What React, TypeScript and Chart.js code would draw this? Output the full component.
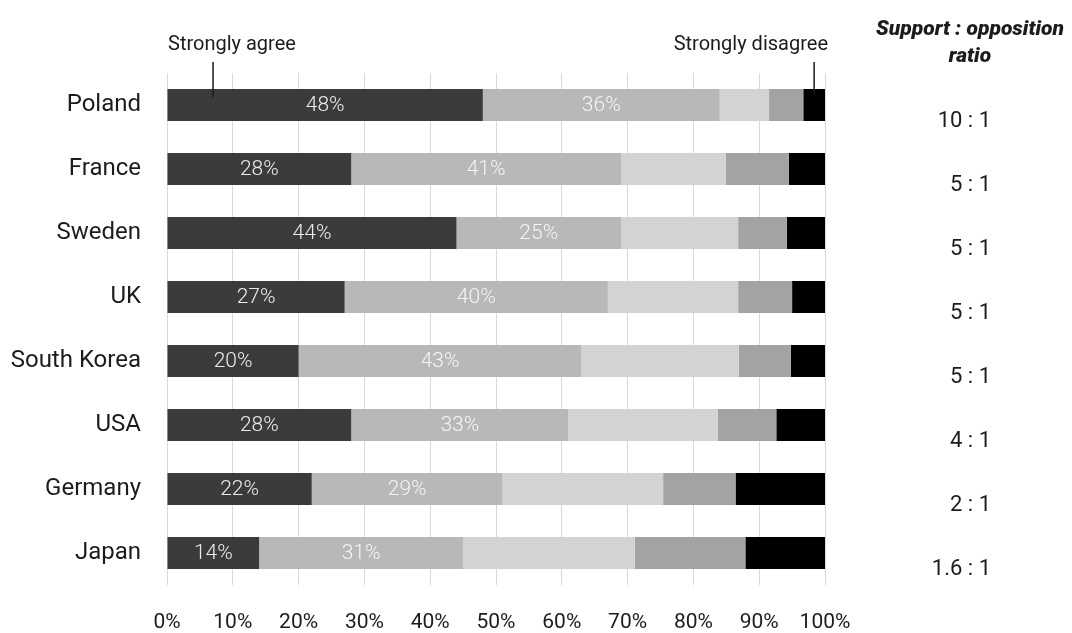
import React, { useEffect, useRef } from "react";
import { Chart, registerables } from "chart.js";

Chart.register(...registerables);

const countries = ["Poland", "France", "Sweden", "UK", "South Korea", "USA", "Germany", "Japan"];
const stronglyAgree = [48, 28, 44, 27, 20, 28, 22, 14];
const agree = [36, 41, 25, 40, 43, 33, 29, 31];
const neutral = [7.5, 15.9, 17.8, 19.8, 23.9, 22.7, 24.4, 26.1];
const disagree = [5.2, 9.6, 7.4, 8.2, 7.9, 8.9, 11, 16.8];
const stronglyDisagree = [3.3, 5.5, 5.8, 5, 5.2, 7.4, 13.6, 12.1];
const ratios = ["10 : 1", "5 : 1", "5 : 1", "5 : 1", "5 : 1", "4 : 1", "2 : 1", "1.6 : 1"];
const xTicks = [0, 10, 20, 30, 40, 50, 60, 70, 80, 90, 100];

const FONT = "Roboto, 'Noto Sans', sans-serif";
const TEXT = "#1c1c1c";

// Draws the in-bar percentages, the end-point callouts and the ratio column
const overlayPlugin = {
  id: "overlay",
  afterDatasetsDraw(chart: any) {
    const { ctx, scales } = chart;
    const x = scales.x;
    const y = scales.y;
    ctx.save();

    // percentage labels on the two "agree" segments
    ctx.font = `300 21px ${FONT}`;
    ctx.textAlign = "center";
    ctx.textBaseline = "middle";
    [0, 1].forEach((di) => {
      const meta = chart.getDatasetMeta(di);
      const vals = chart.data.datasets[di].data as number[];
      meta.data.forEach((bar: any, i: number) => {
        const left = Math.min(bar.x, bar.base);
        const right = Math.max(bar.x, bar.base);
        ctx.fillStyle = di === 0 ? "#ececec" : "#f4f4f4";
        ctx.fillText(`${vals[i]}%`, (left + right) / 2, bar.y + 1);
      });
    });

    // callouts for the first and last segments of the top bar
    const top = chart.getDatasetMeta(0).data[0] as any;
    const barTop = top.y - top.height / 2;
    ctx.font = `20px ${FONT}`;
    ctx.fillStyle = TEXT;
    ctx.textBaseline = "alphabetic";
    ctx.textAlign = "left";
    ctx.fillText("Strongly agree", x.getPixelForValue(0) + 1, 50);
    ctx.textAlign = "right";
    ctx.fillText("Strongly disagree", x.getPixelForValue(100) + 3, 50);

    ctx.strokeStyle = "#1a1a1a";
    ctx.lineWidth = 1.5;
    const agreeX = x.getPixelForValue(7);
    const disX = x.getPixelForValue(100 - stronglyDisagree[0] / 2);
    ctx.beginPath();
    ctx.moveTo(agreeX, 62);
    ctx.lineTo(agreeX, barTop + 8);
    ctx.moveTo(disX, 62);
    ctx.lineTo(disX, barTop + 4);
    ctx.stroke();

    // ratio column
    ctx.textAlign = "center";
    ctx.textBaseline = "middle";
    ctx.font = `italic 900 21px ${FONT}`;
    ctx.fillText("Support : opposition", 970, 30);
    ctx.fillText("ratio", 970, 57);

    ctx.font = `22px ${FONT}`;
    ctx.textAlign = "right";
    ratios.forEach((r, i) => {
      ctx.fillText(r, 991, y.getPixelForValue(i) + 16);
    });

    ctx.restore();
  },
};

export default function App() {
  const canvasRef = useRef<HTMLCanvasElement | null>(null);

  useEffect(() => {
    const canvas = canvasRef.current;
    if (!canvas) return;
    const chart = new Chart(canvas, {
      type: "bar",
      data: {
        labels: countries,
        datasets: [
          { label: "Strongly agree", data: stronglyAgree, backgroundColor: "#3b3b3b" },
          { label: "Agree", data: agree, backgroundColor: "#b8b8b8" },
          { label: "Neutral", data: neutral, backgroundColor: "#d3d3d3" },
          { label: "Disagree", data: disagree, backgroundColor: "#a3a3a3" },
          { label: "Strongly disagree", data: stronglyDisagree, backgroundColor: "#000000" },
        ],
      },
      options: {
        indexAxis: "y",
        responsive: false,
        animation: false,
        devicePixelRatio: 1,
        layout: { padding: { top: 73, right: 247, left: 0, bottom: 0 } },
        datasets: {
          bar: { barPercentage: 1, categoryPercentage: 0.5, borderWidth: 0 },
        },
        plugins: {
          legend: { display: false },
          tooltip: { enabled: false },
        },
        scales: {
          x: {
            stacked: true,
            min: 0,
            max: 100,
            afterBuildTicks: (scale: any) => {
              scale.ticks = xTicks.map((v) => ({ value: v }));
            },
            afterFit: (scale: any) => {
              scale.height = 48;
            },
            grid: { color: "#d8d8d8", lineWidth: 1, drawTicks: false },
            border: { display: false },
            ticks: {
              padding: 25,
              color: TEXT,
              font: { family: FONT, size: 21 },
              callback: (v: any) => `${v}%`,
              maxRotation: 0,
            },
          },
          y: {
            stacked: true,
            afterFit: (scale: any) => {
              scale.width = 167;
            },
            grid: { display: false, drawTicks: false },
            border: { display: false },
            ticks: {
              padding: 26,
              color: TEXT,
              font: { family: FONT, size: 24 },
            },
          },
        },
      },
      plugins: [overlayPlugin],
    });
    return () => chart.destroy();
  }, []);

  return (
    <div style={{ position: "absolute", left: 0, top: 0, width: 1072, height: 633, background: "#fff" }}>
      <canvas ref={canvasRef} width={1072} height={633} />
    </div>
  );
}
